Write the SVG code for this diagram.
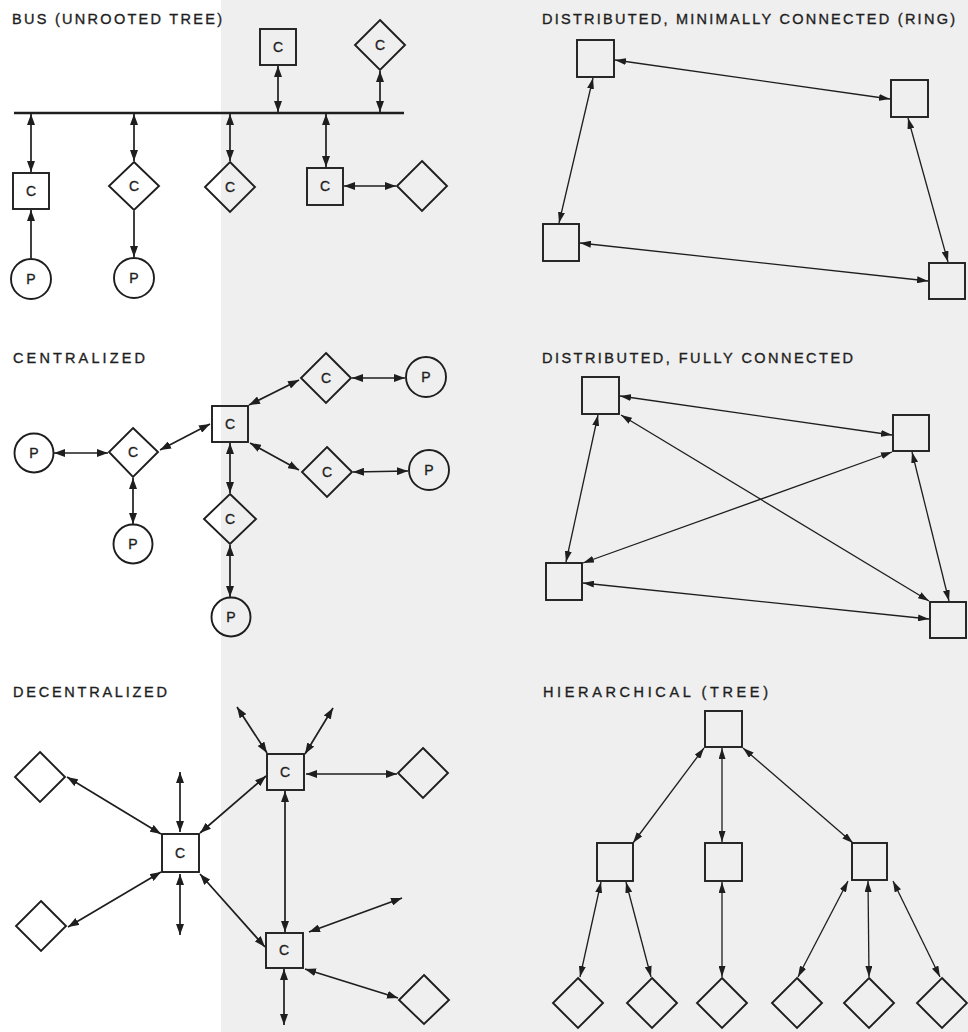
<svg xmlns="http://www.w3.org/2000/svg" width="968" height="1032" viewBox="0 0 968 1032">
<style>
.n{fill:none;stroke:#1e1e1e;stroke-width:1.9}
.t{font-family:"Liberation Sans",Arial,sans-serif;font-size:14px;fill:#1e1e1e;stroke:#1e1e1e;stroke-width:0.35;text-anchor:middle}
.h{font-family:"Liberation Sans",Arial,sans-serif;font-size:14.5px;fill:#1e1e1e;stroke:#1e1e1e;stroke-width:0.35}
.c line{stroke:#1e1e1e;stroke-width:1.7;marker-start:url(#a);marker-end:url(#a)}
.c line.s{marker-start:none}
.c line.w{stroke-width:1.3;marker-start:url(#b);marker-end:url(#b)}
</style>
<defs>
<marker id="a" viewBox="0 0 11 8" refX="11" refY="4" markerWidth="11" markerHeight="8" markerUnits="userSpaceOnUse" orient="auto-start-reverse"><path d="M0,0 L11,4 L0,8 z" fill="#1e1e1e"/></marker>
<marker id="b" viewBox="0 0 11 7" refX="11" refY="3.5" markerWidth="11" markerHeight="7" markerUnits="userSpaceOnUse" orient="auto-start-reverse"><path d="M0,0 L11,3.5 L0,7 z" fill="#1e1e1e"/></marker>
</defs>
<rect width="968" height="1032" fill="#ffffff"/>
<rect x="221" y="0" width="747" height="1032" fill="#efefef"/>

<g id="titles">
<text class="h" x="12" y="24" textLength="210" lengthAdjust="spacing">BUS (UNROOTED TREE)</text>
<text class="h" x="542" y="24" textLength="413" lengthAdjust="spacing">DISTRIBUTED, MINIMALLY CONNECTED (RING)</text>
<text class="h" x="13" y="363" textLength="132" lengthAdjust="spacing">CENTRALIZED</text>
<text class="h" x="542" y="363" textLength="311" lengthAdjust="spacing">DISTRIBUTED, FULLY CONNECTED</text>
<text class="h" x="13" y="697" textLength="154" lengthAdjust="spacing">DECENTRALIZED</text>
<text class="h" x="543" y="697" textLength="225" lengthAdjust="spacing">HIERARCHICAL  (TREE)</text>
</g>

<g id="connectors" class="c">
<line x1="14" y1="113" x2="404" y2="113" style="stroke-width:2.6;marker-start:none;marker-end:none"/>
<line x1="278" y1="66" x2="278" y2="112"/>
<line x1="380" y1="71" x2="380" y2="112"/>
<line x1="31" y1="114" x2="31" y2="172"/>
<line x1="134" y1="114" x2="134" y2="161"/>
<line x1="230" y1="114" x2="230" y2="161"/>
<line x1="326" y1="114" x2="326" y2="167"/>
<line x1="344" y1="186" x2="396" y2="186"/>
<line class="s" x1="31" y1="258" x2="31" y2="210"/>
<line class="s" x1="134" y1="211" x2="134" y2="257"/>

<line class="w" x1="615" y1="60" x2="890" y2="99"/>
<line class="w" x1="593" y1="78" x2="559" y2="223"/>
<line class="w" x1="908" y1="118" x2="948" y2="262"/>
<line class="w" x1="580" y1="243" x2="928" y2="281"/>

<line x1="54" y1="453" x2="108" y2="453"/>
<line x1="160" y1="450" x2="210" y2="424"/>
<line x1="133" y1="478" x2="133" y2="524"/>
<line x1="249" y1="405" x2="299" y2="380"/>
<line x1="352" y1="378" x2="405" y2="378"/>
<line x1="250" y1="443" x2="299" y2="470"/>
<line x1="353" y1="472" x2="408" y2="471"/>
<line x1="230" y1="443" x2="230" y2="493"/>
<line x1="230" y1="545" x2="230" y2="597"/>

<line class="w" x1="620" y1="396" x2="892" y2="435"/>
<line class="w" x1="621" y1="415" x2="929" y2="601"/>
<line class="w" x1="598" y1="415" x2="566" y2="562"/>
<line class="w" x1="892" y1="452" x2="583" y2="563"/>
<line class="w" x1="912" y1="452" x2="949" y2="601"/>
<line class="w" x1="583" y1="583" x2="929" y2="619"/>

<line x1="180" y1="772" x2="180" y2="832"/>
<line x1="180" y1="874" x2="180" y2="935"/>
<line x1="67" y1="777" x2="161" y2="834"/>
<line x1="68" y1="927" x2="161" y2="872"/>
<line x1="200" y1="833" x2="266" y2="776"/>
<line x1="200" y1="874" x2="265" y2="947"/>
<line x1="237" y1="707" x2="267" y2="753"/>
<line x1="333" y1="708" x2="305" y2="754"/>
<line x1="306" y1="774" x2="397" y2="774"/>
<line x1="285" y1="791" x2="285" y2="932"/>
<line x1="402" y1="898" x2="309" y2="932"/>
<line x1="284" y1="969" x2="284" y2="1025"/>
<line x1="305" y1="969" x2="398" y2="998"/>

<line class="w" x1="704" y1="748" x2="633" y2="843"/>
<line class="w" x1="722" y1="748" x2="722" y2="842"/>
<line class="w" x1="743" y1="748" x2="853" y2="843"/>
<line class="w" x1="601" y1="882" x2="580" y2="977"/>
<line class="w" x1="626" y1="882" x2="651" y2="977"/>
<line class="w" x1="722" y1="882" x2="722" y2="977"/>
<line class="w" x1="848" y1="881" x2="798" y2="977"/>
<line class="w" x1="868" y1="881" x2="869" y2="977"/>
<line class="w" x1="893" y1="881" x2="940" y2="977"/>
</g>

<g id="bus-top-sq"><rect class="n" x="260" y="29" width="36" height="36"/><text class="t" x="278" y="52">C</text></g>
<g id="bus-top-dia"><polygon class="n" points="380,20 405,45 380,70 355,45"/><text class="t" x="380" y="50">C</text></g>
<g id="bus-sq1"><rect class="n" x="13" y="173" width="36" height="36"/><text class="t" x="31" y="196">C</text></g>
<g id="bus-p1"><circle class="n" cx="31" cy="279" r="20"/><text class="t" x="31" y="284">P</text></g>
<g id="bus-dia2"><polygon class="n" points="134,162 159,186 134,210 109,186"/><text class="t" x="134" y="191">C</text></g>
<g id="bus-p2"><circle class="n" cx="134" cy="278" r="20"/><text class="t" x="134" y="283">P</text></g>
<g id="bus-dia3"><polygon class="n" points="230,162 255,187 230,212 205,187"/><text class="t" x="230" y="192">C</text></g>
<g id="bus-sq4"><rect class="n" x="307" y="168" width="36" height="37"/><text class="t" x="325" y="191">C</text></g>
<g id="bus-dia5"><polygon class="n" points="422,161 447,186 422,211 397,186"/></g>

<g id="ring-tl"><rect class="n" x="577" y="40" width="37" height="37"/></g>
<g id="ring-tr"><rect class="n" x="891" y="80" width="37" height="37"/></g>
<g id="ring-bl"><rect class="n" x="543" y="224" width="36" height="37"/></g>
<g id="ring-br"><rect class="n" x="929" y="263" width="36" height="36"/></g>

<g id="cen-sq"><rect class="n" x="212" y="406" width="36" height="36"/><text class="t" x="230" y="429">C</text></g>
<g id="cen-p-left"><circle class="n" cx="34" cy="453" r="19.5"/><text class="t" x="34" y="458">P</text></g>
<g id="cen-dia-left"><polygon class="n" points="133,428 158,452 133,477 109,452"/><text class="t" x="133" y="457">C</text></g>
<g id="cen-p-below"><circle class="n" cx="133" cy="544" r="19.5"/><text class="t" x="133" y="549">P</text></g>
<g id="cen-dia-tr"><polygon class="n" points="326,353 351,378 326,403 301,378"/><text class="t" x="326" y="383">C</text></g>
<g id="cen-p-tr"><circle class="n" cx="426" cy="377" r="20"/><text class="t" x="426" y="382">P</text></g>
<g id="cen-dia-br"><polygon class="n" points="327,447 352,472 327,497 302,472"/><text class="t" x="327" y="477">C</text></g>
<g id="cen-p-br"><circle class="n" cx="429" cy="470" r="20"/><text class="t" x="429" y="475">P</text></g>
<g id="cen-dia-b"><polygon class="n" points="230,494 256,519 230,544 204,519"/><text class="t" x="230" y="524">C</text></g>
<g id="cen-p-b"><circle class="n" cx="231" cy="617" r="19.5"/><text class="t" x="231" y="622">P</text></g>

<g id="full-tl"><rect class="n" x="582" y="377" width="37" height="37"/></g>
<g id="full-tr"><rect class="n" x="893" y="415" width="36" height="36"/></g>
<g id="full-bl"><rect class="n" x="546" y="563" width="36" height="37"/></g>
<g id="full-br"><rect class="n" x="930" y="602" width="36" height="36"/></g>

<g id="dec-center"><rect class="n" x="162" y="834" width="37" height="38"/><text class="t" x="180" y="858">C</text></g>
<g id="dec-ur"><rect class="n" x="267" y="754" width="37" height="36"/><text class="t" x="285" y="777">C</text></g>
<g id="dec-lr"><rect class="n" x="266" y="933" width="37" height="35"/><text class="t" x="284" y="955">C</text></g>
<g id="dec-dia-tl"><polygon class="n" points="40,752 65,777 40,802 15,777"/></g>
<g id="dec-dia-bl"><polygon class="n" points="41,901 66,926 41,951 16,926"/></g>
<g id="dec-dia-ur"><polygon class="n" points="423,748 448,773 423,798 398,773"/></g>
<g id="dec-dia-lr"><polygon class="n" points="424,975 449,1000 424,1024 399,1000"/></g>

<g id="hier-top"><rect class="n" x="705" y="711" width="37" height="36"/></g>
<g id="hier-m1"><rect class="n" x="597" y="843" width="36" height="38"/></g>
<g id="hier-m2"><rect class="n" x="705" y="843" width="37" height="38"/></g>
<g id="hier-m3"><rect class="n" x="852" y="843" width="35" height="37"/></g>
<g id="hier-d1"><polygon class="n" points="578,978 603,1003 578,1028 553,1003"/></g>
<g id="hier-d2"><polygon class="n" points="652,978 677,1003 652,1028 627,1003"/></g>
<g id="hier-d3"><polygon class="n" points="722,978 747,1003 722,1028 697,1003"/></g>
<g id="hier-d4"><polygon class="n" points="797,978 822,1003 797,1028 772,1003"/></g>
<g id="hier-d5"><polygon class="n" points="869,978 894,1003 869,1028 844,1003"/></g>
<g id="hier-d6"><polygon class="n" points="942,978 967,1003 942,1028 917,1003"/></g>
</svg>
